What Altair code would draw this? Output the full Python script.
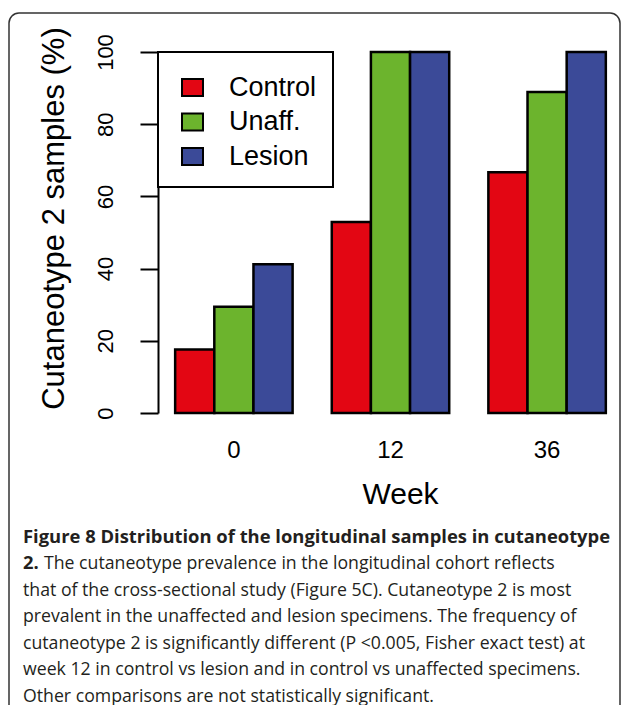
import altair as alt
import pandas as pd

weeks = ["0", "12", "36"]
groups = ["Control", "Unaff.", "Lesion"]
control = [17.6, 52.9, 66.7]
unaff = [29.4, 100.0, 88.9]
lesion = [41.2, 100.0, 100.0]
colors = ["#E30613", "#6CB42D", "#3B4A98"]
y_ticks = [0, 20, 40, 60, 80, 100]
caption_bold_1 = "Figure 8 Distribution of the longitudinal samples in cutaneotype"
caption_bold_2 = "2."
caption_rest_2 = "The cutaneotype prevalence in the longitudinal cohort reflects"
caption_lines = [
    "that of the cross-sectional study (Figure 5C). Cutaneotype 2 is most",
    "prevalent in the unaffected and lesion specimens. The frequency of",
    "cutaneotype 2 is significantly different (P <0.005, Fisher exact test) at",
    "week 12 in control vs lesion and in control vs unaffected specimens.",
    "Other comparisons are not statistically significant.",
]

rows = []
for i, w in enumerate(weeks):
    for g, vals in zip(groups, [control, unaff, lesion]):
        rows.append({"Week": w, "Group": g, "Value": vals[i]})
df = pd.DataFrame(rows)

W, H = 455, 361
FONT = "Liberation Sans"
CAP_FONT = "Open Sans"
CAP_SIZE = 17.7
CAP_BOLD_SIZE = 18.4
CAP_COLOR = "#231f20"
CAP_X = -135
CAP_Y0 = 490.5
CAP_DY = 26.5

one = pd.DataFrame({"k": [0]})

border = alt.Chart(one).mark_rect(
    fill="white", fillOpacity=0, stroke="#333333", strokeWidth=1.5, cornerRadius=10
).encode(
    x=alt.value(-149), x2=alt.value(462), y=alt.value(-39), y2=alt.value(665)
)

bars = alt.Chart(df).mark_bar(stroke="black", strokeWidth=2.5).encode(
    x=alt.X(
        "Week:N",
        sort=weeks,
        scale=alt.Scale(paddingInner=0.25, paddingOuter=0.0777, align=0.705),
        axis=alt.Axis(
            title="Week", labelAngle=0, domain=False, ticks=False, tickSize=0,
            labelFont=FONT, labelFontSize=24, labelPadding=44, labelColor="black",
            labelBaseline="alphabetic",
            titleFont=FONT, titleFontSize=30, titleFontWeight="normal", titleColor="black",
            titleBaseline="alphabetic", titleY=90, titleX=242,
        ),
    ),
    xOffset=alt.XOffset("Group:N", sort=groups, scale=alt.Scale(paddingInner=0, paddingOuter=0)),
    y=alt.Y(
        "Value:Q",
        scale=alt.Scale(domain=[0, 100], nice=False),
        axis=alt.Axis(
            values=y_ticks, grid=False, title="Cutaneotype 2 samples (%)",
            domainColor="black", domainWidth=2, tickColor="black", tickWidth=2, tickSize=18,
            labelAngle=270, labelAlign="center", labelBaseline="alphabetic", labelPadding=28,
            labelFont=FONT, labelFontSize=22, labelColor="black", labelFlush=False,
            titleFont=FONT, titleFontSize=31, titleFontWeight="normal", titleColor="black",
            titleAngle=270, titleAlign="center", titleBaseline="alphabetic", titleX=-95, titleY=166,
        ),
    ),
    fill=alt.Fill(
        "Group:N",
        sort=groups,
        scale=alt.Scale(domain=groups, range=colors),
        legend=alt.Legend(
            title=None, orient="none", legendX=21, legendY=22, padding=0,
            symbolType="M-1,-0.8H1V0.8H-1Z", symbolSize=441, symbolStrokeColor="black",
            symbolStrokeWidth=2, symbolOpacity=1,
            labelFont=FONT, labelFontSize=27, labelColor="black", labelOffset=23,
            rowPadding=6.5,
        ),
    ),
)

legend_box = alt.Chart(one).mark_rect(fill="white", stroke="black", strokeWidth=2).encode(
    x=alt.value(0), x2=alt.value(175), y=alt.value(0), y2=alt.value(135)
)

layers = [border, legend_box, bars]

layers.append(
    alt.Chart(pd.DataFrame({"t": [caption_bold_1]})).mark_text(
        align="left", baseline="alphabetic", font=CAP_FONT, fontSize=CAP_BOLD_SIZE,
        fontWeight="bold", color=CAP_COLOR
    ).encode(x=alt.value(CAP_X), y=alt.value(CAP_Y0), text="t:N")
)
layers.append(
    alt.Chart(pd.DataFrame({"t": [caption_bold_2]})).mark_text(
        align="left", baseline="alphabetic", font=CAP_FONT, fontSize=CAP_BOLD_SIZE,
        fontWeight="bold", color=CAP_COLOR
    ).encode(x=alt.value(CAP_X), y=alt.value(CAP_Y0 + CAP_DY), text="t:N")
)
layers.append(
    alt.Chart(pd.DataFrame({"t": [caption_rest_2]})).mark_text(
        align="left", baseline="alphabetic", font=CAP_FONT, fontSize=CAP_SIZE, color=CAP_COLOR
    ).encode(x=alt.value(CAP_X + 21), y=alt.value(CAP_Y0 + CAP_DY), text="t:N")
)
for i, line in enumerate(caption_lines):
    layers.append(
        alt.Chart(pd.DataFrame({"t": [line]})).mark_text(
            align="left", baseline="alphabetic", font=CAP_FONT, fontSize=CAP_SIZE, color=CAP_COLOR
        ).encode(x=alt.value(CAP_X), y=alt.value(CAP_Y0 + CAP_DY * (i + 2)), text="t:N")
    )

chart = alt.layer(*layers).properties(
    width=W, height=H,
    autosize=alt.AutoSizeParams(type="none"),
    padding={"left": 150, "top": 44, "right": 8, "bottom": 292},
).configure_view(stroke=None)

chart.save("out.html", embed_options={"renderer": "svg", "actions": False})
